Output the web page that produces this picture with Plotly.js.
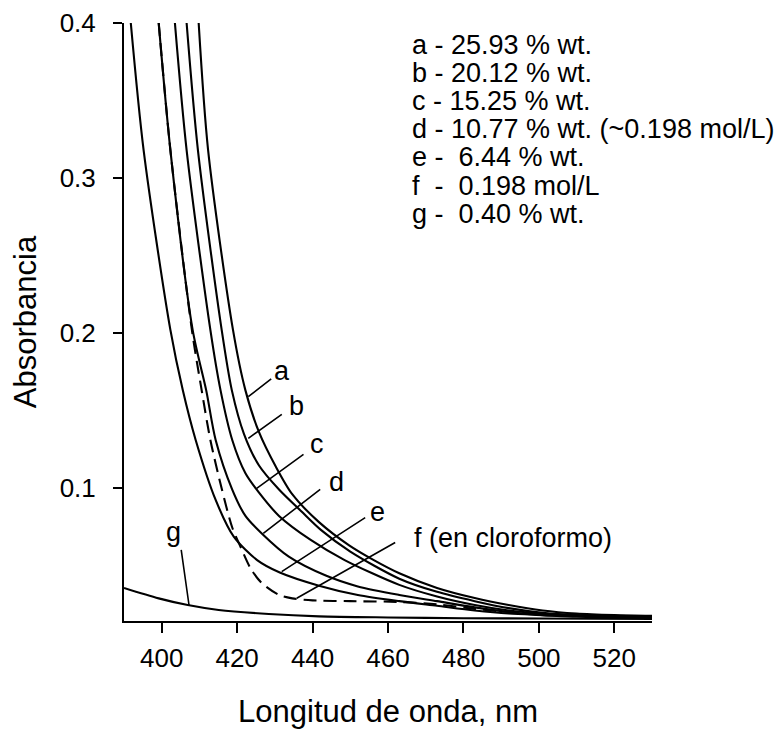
<!DOCTYPE html>
<html>
<head>
<meta charset="utf-8">
<script src="https://cdn.plot.ly/plotly-3.0.1.min.js"></script>
<style>html,body{margin:0;padding:0;background:#fff;}#chart{width:780px;height:732px;}</style>
</head>
<body>
<div id="chart"></div>
<script>
// ---- data ----
const curveNames = ['a', 'b', 'c', 'd', 'e', 'f', 'g'];

const wl_a  = [409.8, 412.3, 418.9, 422.2, 425.8, 430.2, 434.6, 441.7, 449.7, 456, 463, 473, 483, 492, 501, 510, 520, 530];
const abs_a = [0.400, 0.318, 0.202, 0.163, 0.136, 0.114, 0.096, 0.078, 0.0630, 0.0538, 0.045, 0.0355, 0.029, 0.0245, 0.021, 0.019, 0.018, 0.0175];

const wl_b  = [406.6, 409.6, 415.9, 418.6, 421.8, 425.8, 431.1, 437.0, 442.2, 450, 463, 473, 483, 492, 501, 510, 520, 530];
const abs_b = [0.400, 0.318, 0.202, 0.163, 0.135, 0.1145, 0.0990, 0.0850, 0.0730, 0.059, 0.0415, 0.033, 0.027, 0.0225, 0.0195, 0.018, 0.0175, 0.017];

const wl_c  = [403.5, 406.6, 412.9, 415.6, 418.7, 422.2, 425.8, 431.1, 439.5, 448.5, 463, 473, 483, 492, 501, 510, 520, 530];
const abs_c = [0.400, 0.318, 0.202, 0.163, 0.131, 0.1095, 0.0970, 0.0820, 0.0665, 0.0535, 0.0375, 0.030, 0.0245, 0.021, 0.019, 0.0178, 0.017, 0.0168];

const wl_d  = [399.2, 402.3, 408.2, 411.8, 414.3, 418.7, 422.2, 426.6, 433.7, 443.5, 452, 463, 473, 483, 492, 501, 510, 520, 530];
const abs_d = [0.400, 0.318, 0.202, 0.163, 0.131, 0.0990, 0.0820, 0.0705, 0.0557, 0.0435, 0.0365, 0.031, 0.027, 0.023, 0.020, 0.018, 0.0175, 0.017, 0.0168];

const wl_e  = [391.8, 395.2, 402.3, 405.6, 409.0, 414.3, 419.1, 425.3, 431.3, 441.7, 452, 463, 473, 483, 492, 501, 510, 520, 530];
const abs_e = [0.400, 0.318, 0.202, 0.163, 0.131, 0.0923, 0.0686, 0.0535, 0.0455, 0.037, 0.031, 0.027, 0.024, 0.021, 0.019, 0.018, 0.017, 0.0168, 0.0165];

const wl_f  = [399.2, 402.3, 408.0, 410.6, 412.9, 416.0, 418.7, 420.9, 423.6, 426.6, 431.1, 434.6, 440, 450, 463, 473, 483, 492, 501, 510, 520, 530];
const abs_f = [0.400, 0.318, 0.202, 0.163, 0.131, 0.0987, 0.0745, 0.062, 0.048, 0.0385, 0.031, 0.0288, 0.0275, 0.027, 0.0265, 0.025, 0.022, 0.020, 0.0185, 0.0178, 0.017, 0.0168];

const wl_g  = [390, 399.2, 406.9, 415.1, 428.4, 441.7, 460, 480, 500, 530];
const abs_g = [0.0355, 0.0288, 0.0245, 0.0213, 0.0187, 0.0172, 0.0165, 0.016, 0.0158, 0.0155];

const xTickVals = [400, 420, 440, 460, 480, 500, 520];
const xTickText = ['400', '420', '440', '460', '480', '500', '520'];
const yTickVals = [0.1, 0.2, 0.3, 0.4];
const yTickText = ['0.1', '0.2', '0.3', '0.4'];

const legendLines = [
  'a - 25.93 % wt.',
  'b - 20.12 % wt.',
  'c - 15.25 % wt.',
  'd - 10.77 % wt. (~0.198 mol/L)',
  'e - \u00A06.44 % wt.',
  'f \u00A0- \u00A00.198 mol/L',
  'g - \u00A00.40 % wt.'
];
const fLabel = 'f (en cloroformo)';
const xTitle = 'Longitud de onda, nm';
const yTitle = 'Absorbancia';

// ---- layout geometry ----
const W = 780, H = 732;
const M = {l: 124, r: 128, t: 23, b: 111};
const X0 = 390, X1 = 530, Y0 = 0.0142, Y1 = 0.4;
const PL = M.l, PR = W - M.r, PT = M.t, PB = H - M.b;
function dx(px) { return X0 + (px - PL) / (PR - PL) * (X1 - X0); }
function dy(py) { return Y1 - (py - PT) / (PB - PT) * (Y1 - Y0); }

const FONT = 'Liberation Sans, Arial, Helvetica, sans-serif';

const series = [
  [wl_a, abs_a], [wl_b, abs_b], [wl_c, abs_c], [wl_d, abs_d],
  [wl_e, abs_e], [wl_f, abs_f], [wl_g, abs_g]
];
const traces = series.map((s, i) => ({
  type: 'scatter', mode: 'lines', name: curveNames[i],
  x: s[0], y: s[1],
  line: {color: '#000', width: 2.1, shape: 'spline', smoothing: 0.8,
         dash: curveNames[i] === 'f' ? '13px,7px' : 'solid'},
  hoverinfo: 'x+y+name'
}));

// pointer lines: [end px x, end px y, start px x, start px y]
const pointers = [
  [248.3, 396.7, 272.7, 377.7],
  [248.3, 438.3, 283.3, 413.3],
  [256.7, 488.3, 305.0, 453.3],
  [263.3, 533.3, 321.7, 488.3],
  [281.7, 571.7, 366.7, 516.7],
  [296.7, 598.3, 396.7, 541.7],
  [189.0, 605.0, 181.0, 548.3]
];
// label centres in px
const labelPos = [
  [281.7, 371.0], [296.7, 406.0], [316.7, 444.0], [336.7, 482.0],
  [377.0, 512.0], null, [173.3, 532.0]
];

const annotations = [];
pointers.forEach(p => {
  annotations.push({
    x: dx(p[0]), y: dy(p[1]), xref: 'x', yref: 'y',
    ax: p[2] - p[0], ay: p[3] - p[1], axref: 'pixel', ayref: 'pixel',
    text: '', showarrow: true, arrowhead: 0, arrowwidth: 1.6, arrowcolor: '#000',
    standoff: 0, startstandoff: 0
  });
});
labelPos.forEach((p, i) => {
  if (!p) return;
  annotations.push({
    x: dx(p[0]), y: dy(p[1]), xref: 'x', yref: 'y',
    text: curveNames[i], showarrow: false, xanchor: 'center', yanchor: 'middle',
    font: {family: FONT, size: 27, color: '#000'}
  });
});
annotations.push({
  x: dx(412), y: dy(538), xref: 'x', yref: 'y', text: fLabel, showarrow: false,
  xanchor: 'left', yanchor: 'middle', font: {family: FONT, size: 27, color: '#000'}
});
legendLines.forEach((t, i) => {
  annotations.push({
    x: dx(410), y: dy(45 + i * 28.1), xref: 'x', yref: 'y', text: t, showarrow: false,
    xanchor: 'left', yanchor: 'middle', font: {family: FONT, size: 27, color: '#000'}
  });
});

const layout = {
  width: W, height: H, margin: M, showlegend: false,
  paper_bgcolor: '#fff', plot_bgcolor: '#fff',
  font: {family: FONT, color: '#000'},
  xaxis: {
    range: [X0, X1], showgrid: false, zeroline: false, showline: true,
    linecolor: '#000', linewidth: 2, ticks: 'outside', ticklen: 10, tickwidth: 2, tickcolor: '#000',
    tickvals: xTickVals, ticktext: xTickText, tickfont: {family: FONT, size: 26, color: '#000'},
    ticklabelstandoff: 3,
    title: {text: xTitle, font: {family: FONT, size: 31, color: '#000'}, standoff: 28}
  },
  yaxis: {
    range: [Y0, Y1], showgrid: false, zeroline: false, showline: true,
    linecolor: '#000', linewidth: 2, ticks: 'outside', ticklen: 9, tickwidth: 2, tickcolor: '#000',
    tickvals: yTickVals, ticktext: yTickText, tickfont: {family: FONT, size: 26, color: '#000'},
    ticklabelstandoff: 12,
    title: {text: yTitle, font: {family: FONT, size: 31, color: '#000'}, standoff: 14}
  },
  annotations: annotations
};

Plotly.newPlot('chart', traces, layout, {displayModeBar: false, staticPlot: true});
</script>
</body>
</html>
